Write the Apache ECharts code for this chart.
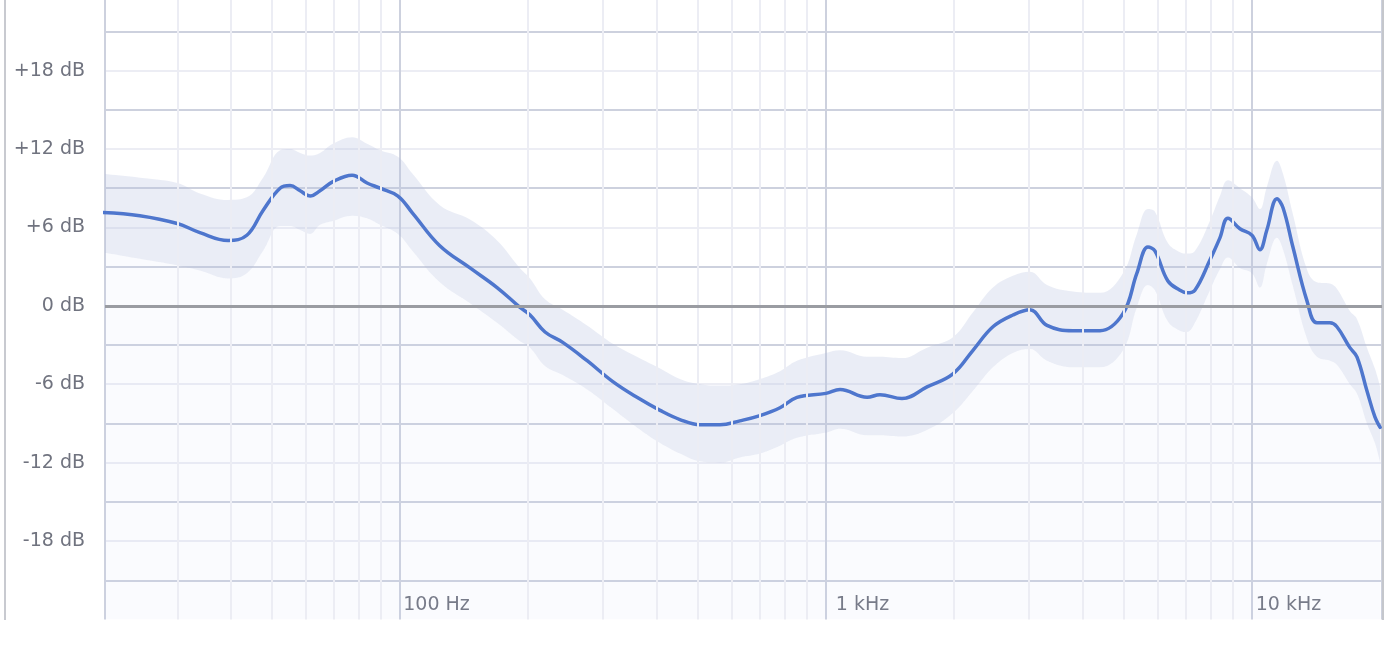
<!DOCTYPE html>
<html>
<head>
<meta charset="utf-8">
<style>
html,body{margin:0;padding:0;background:#fff;}
#chart{width:1392px;height:658px;}
</style>
<script src="https://cdn.jsdelivr.net/npm/echarts@6/dist/echarts.min.js"></script>
</head>
<body>
<div id="chart"></div>
<script>
// Frequency (Hz)
const freqs = [20, 24.5, 30, 33.9, 39.5, 43.7, 47.7, 52.3, 55.2, 58.3, 61.5, 64.9, 69.6, 77.2, 83.7, 89.8, 98.9, 107, 124, 146, 169, 191, 202, 219, 241, 275, 316, 360, 408, 454, 506, 564, 628, 700, 780, 855, 1000, 1079, 1249, 1339, 1508, 1727, 1987, 2214, 2466, 2748, 3012, 3303, 3800, 4398, 4980, 5370, 5700, 5919, 6350, 6776, 7037, 7348, 7969, 8411, 8783, 9372, 10000, 10440, 10840, 11450, 11830, 12480, 13460, 14210, 15240, 15830, 16980, 17640, 18620, 19440, 20000];
// Mean response (dB)
const meanDb = [7.15, 6.9, 6.3, 5.6, 5.0, 5.4, 7.3, 9.0, 9.2, 8.8, 8.4, 8.8, 9.5, 10.0, 9.4, 9.0, 8.4, 7.1, 4.6, 2.9, 1.4, -0.1, -0.7, -2.0, -2.8, -4.2, -5.8, -7.0, -8.0, -8.7, -9.1, -9.1, -8.8, -8.4, -7.8, -7.0, -6.7, -6.4, -7.0, -6.8, -7.1, -6.2, -5.2, -3.4, -1.6, -0.7, -0.3, -1.5, -1.9, -1.9, -0.6, 2.5, 4.5, 4.2, 1.9, 1.2, 1.0, 1.2, 3.5, 5.2, 6.7, 5.9, 5.4, 4.3, 5.8, 8.2, 7.5, 4.5, 0.4, -1.3, -1.3, -1.6, -3.2, -3.9, -6.5, -8.5, -9.3];
// Upper edge of spread band (dB)
const upperDb = [10.1, 9.8, 9.4, 8.6, 8.1, 8.3, 9.8, 11.9, 12.0, 11.7, 11.5, 11.7, 12.4, 12.9, 12.4, 11.9, 11.4, 10.1, 7.7, 6.6, 5.0, 2.9, 2.1, 0.5, -0.3, -1.5, -2.9, -3.9, -4.8, -5.6, -6.0, -6.1, -6.0, -5.6, -5.0, -4.2, -3.6, -3.4, -3.9, -3.9, -4.0, -3.2, -2.4, -0.5, 1.4, 2.3, 2.6, 1.6, 1.1, 1.0, 2.5, 5.5, 7.4, 7.2, 4.8, 4.1, 4.0, 4.2, 6.5, 8.4, 9.6, 9.0, 8.3, 7.4, 9.1, 11.1, 10.1, 7.0, 2.8, 1.8, 1.7, 1.3, -0.4, -1.0, -3.2, -4.8, -6.2];
// Lower edge of spread band (dB)
const lowerDb = [4.1, 3.6, 3.1, 2.7, 2.1, 2.5, 4.2, 6.1, 6.1, 5.8, 5.5, 6.2, 6.5, 6.9, 6.7, 6.2, 5.5, 4.2, 1.8, 0.2, -1.3, -2.7, -3.2, -4.6, -5.3, -6.4, -7.9, -9.3, -10.5, -11.3, -11.9, -12.0, -11.6, -11.3, -10.7, -10.1, -9.7, -9.4, -9.9, -9.9, -10.0, -9.5, -8.2, -6.5, -4.7, -3.6, -3.3, -4.2, -4.7, -4.7, -3.4, -0.1, 1.6, 1.2, -1.2, -1.9, -2.0, -1.3, 1.2, 2.8, 3.7, 2.9, 2.5, 1.4, 3.2, 5.2, 4.3, 1.5, -2.5, -3.9, -4.2, -4.5, -6.0, -6.7, -9.0, -10.5, -12.0];
// Minor vertical grid frequencies
const minorFreqs = [30, 40, 50, 60, 70, 80, 90, 200, 300, 400, 500, 600, 700, 800, 900, 2000, 3000, 4000, 5000, 6000, 7000, 8000, 9000];

// [dB, Hz] order so that stacking applies to the dB dimension
const meanData = freqs.map((f, i) => [meanDb[i], f]);
const lowerData = freqs.map((f, i) => [lowerDb[i], f]);
const bandData = freqs.map((f, i) => [+(upperDb[i] - lowerDb[i]).toFixed(2), f]);
const enc = {x: 1, y: 0};

const labelColor = '#70737f';
const fontFamily = '"DejaVu Sans", sans-serif';

const chart = echarts.init(document.getElementById('chart'), null, {renderer: 'canvas'});
chart.setOption({
  animation: false,
  grid: {left: 105, right: 10, top: 0, bottom: 38.5, containLabel: false},
  xAxis: {
    type: 'log', logBase: 10, min: 20.3, max: 20200,
    axisLine: {show: false}, axisTick: {show: false},
    axisLabel: {
      inside: true, align: 'center', verticalAlign: 'middle', margin: 14,
      padding: [0, 0, 0, 73], color: labelColor, fontSize: 19, fontFamily: fontFamily,
      showMinLabel: false, showMaxLabel: false,
      formatter: function (v) {
        if (v < 50 || v > 15000) return '';
        return v >= 1000 ? Math.round(v / 1000) + ' kHz' : Math.round(v) + ' Hz';
      }
    },
    splitLine: {show: true, lineStyle: {color: '#cdd1de', width: 2}}
  },
  yAxis: {
    type: 'value', min: -24, max: 23.4, interval: 3,
    axisLine: {show: false}, axisTick: {show: false},
    axisLabel: {
      margin: 20, color: labelColor, fontSize: 19, fontFamily: fontFamily,
      formatter: function (v) {
        if (Math.abs(v % 6) > 1e-6 || Math.abs(v) >= 24) return '';
        return (v > 0 ? '+' : '') + v + ' dB';
      }
    },
    splitLine: {show: true, showMinLine: false, showMaxLine: false, lineStyle: {color: ['#cdd1de', '#ecedf4'], width: 2}}
  },
  series: [
    {
      name: 'minorGrid', type: 'line', data: [], z: 1, silent: true,
      markLine: {
        silent: true, symbol: 'none', label: {show: false}, animation: false,
        lineStyle: {color: '#ecedf4', width: 2, type: 'solid'},
        emphasis: {disabled: true},
        data: minorFreqs.map(f => ({xAxis: f}))
      }
    },
    {
      name: 'lower', type: 'line', data: lowerData, encode: enc, stack: 'band', stackStrategy: 'all', z: 2,
      smooth: 0.4, symbol: 'none', silent: true,
      lineStyle: {width: 0, opacity: 0},
      areaStyle: {origin: 'start', color: 'rgba(200,210,240,0.13)'}
    },
    {
      name: 'band', type: 'line', data: bandData, encode: enc, stack: 'band', stackStrategy: 'all', z: 2,
      smooth: 0.4, symbol: 'none', silent: true,
      lineStyle: {width: 0, opacity: 0},
      areaStyle: {color: 'rgba(178,190,222,0.4)'}
    },
    {
      name: 'zero', type: 'line', data: [], z: 3, silent: true,
      markLine: {
        silent: true, symbol: 'none', label: {show: false}, animation: false,
        lineStyle: {color: '#9a9ca2', width: 3, type: 'solid'},
        emphasis: {disabled: true},
        data: [{yAxis: 0}]
      }
    },
    {
      name: 'mean', type: 'line', data: meanData, encode: enc, z: 4, clip: false,
      smooth: 0.4, symbol: 'none', silent: true,
      lineStyle: {color: '#4e76cd', width: 3.5, cap: 'round', join: 'round'}
    }
  ],
  graphic: [
    {type: 'line', z: 100, silent: true, shape: {x1: 5, y1: 0, x2: 5, y2: 620}, style: {stroke: '#c8cad0', lineWidth: 2}},
    {type: 'line', z: 100, silent: true, shape: {x1: 1383, y1: 0, x2: 1383, y2: 620}, style: {stroke: '#c5c7cc', lineWidth: 2}}
  ]
});
</script>
</body>
</html>
